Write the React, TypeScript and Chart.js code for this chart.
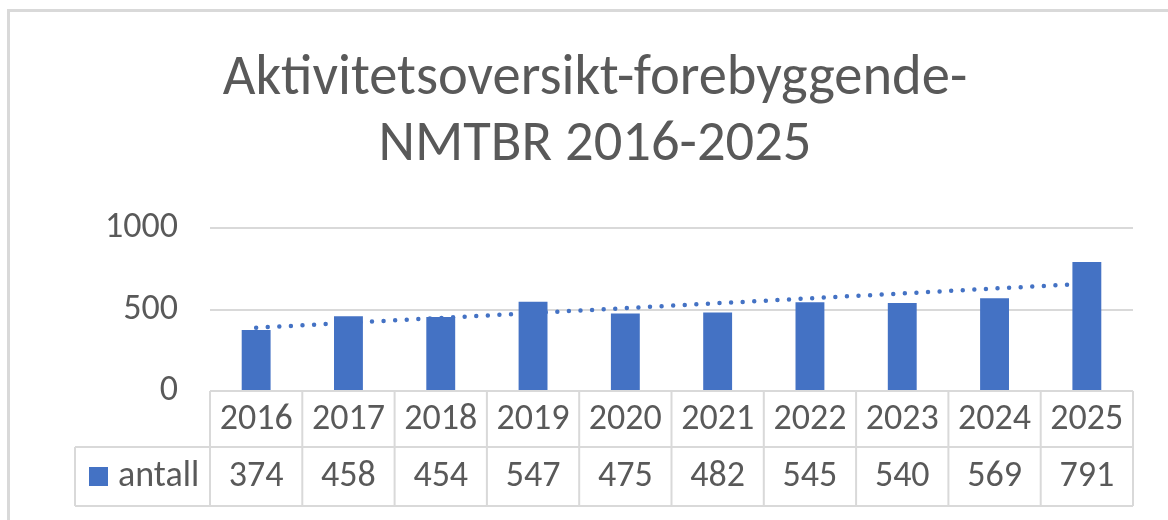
import React, { useEffect, useRef } from "react";
import { Chart, registerables } from "chart.js";

Chart.register(...registerables);

const categories: string[] = ["2016", "2017", "2018", "2019", "2020", "2021", "2022", "2023", "2024", "2025"];
const antall: number[] = [374, 458, 454, 547, 475, 482, 545, 540, 569, 791];
const seriesName = "antall";
const titleLines: string[] = ["Aktivitetsoversikt-forebyggende-", "NMTBR 2016-2025"];
const yTicks: number[] = [0, 500, 1000];

const BLUE = "#4472C4";
const GREY_LINE = "#D9D9D9";
const TEXT = "#595959";
const FONT = "Carlito, Lato, 'Open Sans', sans-serif";
const TABLE_FONT_SIZE = 36;

// Linear trendline (least squares) computed from the data, as Excel does
function linearTrend(values: number[]): number[] {
  const n = values.length;
  const mx = (n - 1) / 2;
  const my = values.reduce((a, b) => a + b, 0) / n;
  let sxy = 0;
  let sxx = 0;
  values.forEach((v, i) => {
    sxy += (i - mx) * (v - my);
    sxx += (i - mx) * (i - mx);
  });
  const slope = sxy / sxx;
  return values.map((_, i) => my + slope * (i - mx));
}

const dataTablePlugin = {
  id: "dataTable",
  afterDraw(chart: any) {
    const { ctx, chartArea } = chart;
    const { left, right, bottom } = chartArea;
    const xs = chart.scales.x;
    const n = categories.length;
    const colW = (right - left) / n;
    const row1Bot = bottom + 56;
    const row2Bot = bottom + 115;
    const legendLeft = left - 135;

    ctx.save();
    ctx.strokeStyle = GREY_LINE;
    ctx.lineWidth = 2;
    ctx.beginPath();
    ctx.moveTo(legendLeft, row1Bot);
    ctx.lineTo(right, row1Bot);
    ctx.moveTo(legendLeft, row2Bot);
    ctx.lineTo(right, row2Bot);
    for (let k = 0; k <= n; k++) {
      const x = left + k * colW;
      ctx.moveTo(x, bottom);
      ctx.lineTo(x, row2Bot);
    }
    ctx.moveTo(legendLeft, row1Bot);
    ctx.lineTo(legendLeft, row2Bot);
    ctx.stroke();

    ctx.fillStyle = TEXT;
    ctx.font = `${TABLE_FONT_SIZE}px ${FONT}`;
    ctx.textAlign = "center";
    ctx.textBaseline = "middle";
    const r1c = (bottom + row1Bot) / 2 + 1;
    const r2c = (row1Bot + row2Bot) / 2;
    categories.forEach((c, i) => {
      const cx = xs.getPixelForValue(i);
      ctx.fillText(c, cx, r1c);
      ctx.fillText(String(antall[i]), cx, r2c);
    });

    ctx.fillStyle = BLUE;
    ctx.fillRect(legendLeft + 14, r2c - 9.5, 19, 19);
    ctx.fillStyle = TEXT;
    ctx.textAlign = "left";
    ctx.fillText(seriesName, legendLeft + 43, r2c);
    ctx.restore();
  },
};

export default function App() {
  const canvasRef = useRef<HTMLCanvasElement | null>(null);

  useEffect(() => {
    const canvas = canvasRef.current;
    if (!canvas) return;
    const trend = linearTrend(antall);
    const chart = new Chart(canvas, {
      type: "bar",
      data: {
        labels: categories,
        datasets: [
          {
            type: "bar",
            label: seriesName,
            data: antall,
            backgroundColor: BLUE,
            barPercentage: 0.313,
            categoryPercentage: 1,
            order: 1,
          },
          {
            type: "line",
            label: "Lineær (antall)",
            data: trend,
            borderColor: BLUE,
            borderWidth: 4.5,
            borderDash: [0, 11.6],
            borderCapStyle: "round",
            pointRadius: 0,
            fill: false,
            order: 2,
          } as any,
        ],
      },
      options: {
        responsive: false,
        animation: false,
        layout: { padding: { top: 47, left: 0, right: 0, bottom: 129 } },
        plugins: {
          legend: { display: false },
          tooltip: { enabled: false },
          title: {
            display: true,
            text: titleLines,
            color: TEXT,
            font: { family: FONT, size: 56.5, weight: "normal", lineHeight: "66px" as any },
            padding: { top: 0, bottom: 49 },
          },
        },
        scales: {
          x: {
            type: "category",
            display: false,
            offset: true,
          },
          y: {
            type: "linear",
            position: "left",
            min: 0,
            max: 1000,
            afterBuildTicks: (s: any) => {
              s.ticks = yTicks.map((v) => ({ value: v }));
            },
            afterFit: (s: any) => {
              s.width = 210;
            },
            border: { display: false },
            grid: { color: GREY_LINE, lineWidth: 2, drawTicks: false },
            ticks: {
              color: TEXT,
              padding: 32,
              font: { family: FONT, size: TABLE_FONT_SIZE },
              callback: (v: any) => String(v),
            },
          },
          yRight: {
            type: "linear",
            position: "right",
            display: true,
            min: 0,
            max: 1000,
            afterFit: (s: any) => {
              s.width = 57;
            },
            border: { display: false },
            grid: { display: false, drawTicks: false },
            ticks: { display: false },
          },
        },
      },
      plugins: [dataTablePlugin],
    });
    return () => chart.destroy();
  }, []);

  return (
    <div
      style={{
        position: "fixed",
        left: 0,
        top: 0,
        width: 1168,
        height: 520,
        overflow: "hidden",
        background: "#ffffff",
      }}
    >
      <canvas
        ref={canvasRef}
        width={1190}
        height={520}
        style={{ position: "absolute", left: 0, top: 0, width: 1190, height: 520 }}
      />
      <div
        style={{
          position: "absolute",
          left: 7,
          top: 9,
          width: 1300,
          height: 700,
          border: `3px solid ${GREY_LINE}`,
          boxSizing: "border-box",
          pointerEvents: "none",
        }}
      />
    </div>
  );
}
